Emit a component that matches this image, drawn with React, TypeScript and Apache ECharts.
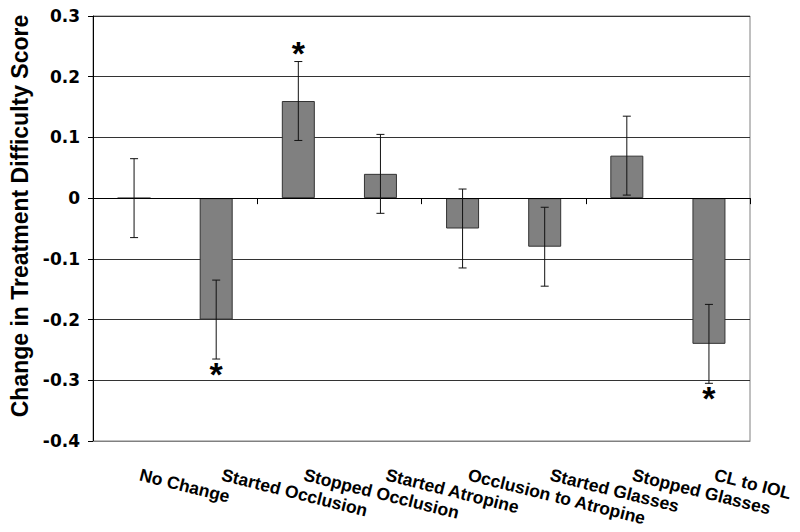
import React, { useEffect, useRef } from "react";
import * as echarts from "echarts";

const categories = [
  "No Change",
  "Started Occlusion",
  "Stopped Occlusion",
  "Started Atropine",
  "Occlusion to Atropine",
  "Started Glasses",
  "Stopped Glasses",
  "CL to IOL",
];
const values = [0, -0.2, 0.16, 0.04, -0.05, -0.08, 0.07, -0.24];
const errors = [0.065, 0.065, 0.065, 0.065, 0.065, 0.065, 0.065, 0.065];
const significant = [false, true, true, false, false, false, false, true];
const yTicks = { min: -0.4, max: 0.3, interval: 0.1 };
const yName = "Change in Treatment Difficulty Score";

const ARIAL = "'Liberation Sans', Arial, Helvetica, sans-serif";
const WIDE = "'DejaVu Sans', 'Liberation Sans', Arial, sans-serif";

export default function App() {
  const ref = useRef<HTMLDivElement>(null);
  useEffect(() => {
    document.body.style.margin = "0";
    if (!ref.current) return;
    const chart = echarts.init(ref.current, undefined, { renderer: "svg" });
    const errData = categories.map((_, i) => [i, values[i], errors[i]]);
    const starData = categories
      .map((_, i) => [i, values[i], errors[i]])
      .filter((_, i) => significant[i]);
    chart.setOption({
      animation: false,
      backgroundColor: "#ffffff",
      grid: {
        left: 93,
        right: 50,
        top: 16,
        bottom: 91,
        containLabel: false,
        outerBoundsMode: "none",
        show: true,
        borderColor: "#808080",
        borderWidth: 1,
      },
      xAxis: [
        {
          type: "category",
          data: categories,
          position: "bottom",
          axisLine: { onZero: true, lineStyle: { color: "#000", width: 1 } },
          axisTick: { show: true, length: 6, lineStyle: { color: "#000" } },
          axisLabel: { show: false },
          splitLine: { show: false },
          z: 5,
        },
        {
          type: "category",
          data: categories,
          position: "bottom",
          axisLine: { onZero: false, show: true, lineStyle: { color: "#808080" } },
          axisTick: { show: false },
          axisLabel: {
            show: true,
            interval: 0,
            rotate: -14,
            margin: 32,
            padding: [0, 0, 0, 6],
            color: "#000",
            fontFamily: ARIAL,
            fontWeight: "bold",
            fontSize: 17.5,
          },
        },
      ],
      yAxis: {
        type: "value",
        min: yTicks.min,
        max: yTicks.max,
        interval: yTicks.interval,
        name: yName,
        nameLocation: "middle",
        nameGap: 59,
        nameTextStyle: {
          fontFamily: ARIAL,
          fontWeight: "bold",
          fontSize: 23,
          color: "#000",
          padding: [0, 0, 0, 25],
        },
        axisLine: { show: true, lineStyle: { color: "#000" } },
        axisTick: { show: true, length: 5, lineStyle: { color: "#000" } },
        axisLabel: {
          color: "#000",
          fontFamily: WIDE,
          fontWeight: "bold",
          fontSize: 17,
          margin: 13,
          formatter: (v: number) => (Math.abs(v) < 1e-9 ? "0" : v.toFixed(1)),
        },
        splitLine: { show: true, lineStyle: { color: "#333", width: 1 } },
      },
      series: [
        {
          type: "bar",
          data: values,
          barWidth: 33,
          itemStyle: { color: "#808080", borderColor: "#333", borderWidth: 1 },
          z: 2,
        },
        {
          type: "custom",
          data: errData,
          z: 10,
          renderItem: (params: any, api: any) => {
            const i = api.value(0);
            const v = api.value(1);
            const e = api.value(2);
            const top = api.coord([i, v + e]);
            const bot = api.coord([i, v - e]);
            const hw = 4;
            const style = { stroke: "#111", lineWidth: 1 };
            return {
              type: "group",
              children: [
                { type: "line", shape: { x1: top[0], y1: top[1], x2: bot[0], y2: bot[1] }, style },
                { type: "line", shape: { x1: top[0] - hw, y1: top[1], x2: top[0] + hw, y2: top[1] }, style },
                { type: "line", shape: { x1: bot[0] - hw, y1: bot[1], x2: bot[0] + hw, y2: bot[1] }, style },
              ],
            };
          },
        },
        {
          type: "custom",
          data: starData,
          z: 11,
          renderItem: (params: any, api: any) => {
            const i = api.value(0);
            const v = api.value(1);
            const e = api.value(2);
            const up = v >= 0;
            const p = api.coord([i, up ? v + e : v - e]);
            return {
              type: "text",
              x: p[0],
              y: p[1] + (up ? -9 : 15),
              style: {
                text: "*",
                fontFamily: ARIAL,
                fontWeight: "bold",
                fontSize: 34,
                fill: "#000",
                align: "center",
                verticalAlign: "middle",
              },
            };
          },
        },
      ],
    });
    return () => chart.dispose();
  }, []);
  return <div ref={ref} style={{ width: 800, height: 532 }} />;
}
